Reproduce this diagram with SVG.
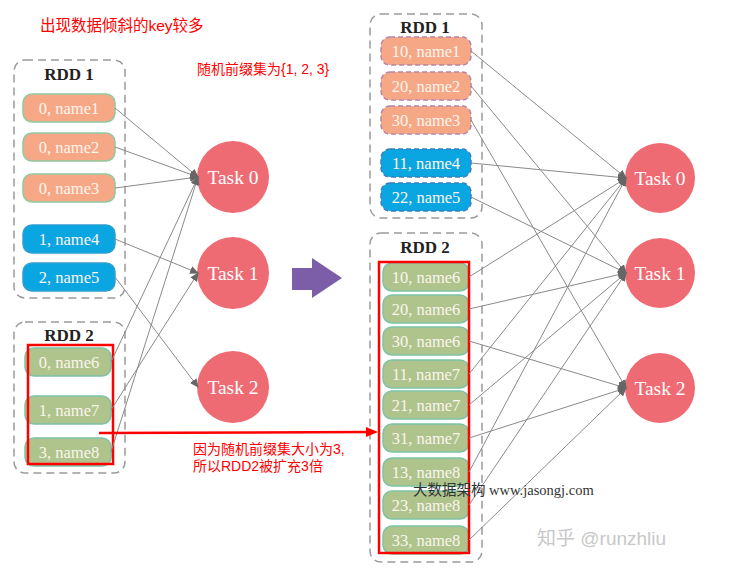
<svg xmlns="http://www.w3.org/2000/svg" width="742" height="575" viewBox="0 0 742 575">
<defs>
<marker id="ah" markerWidth="9" markerHeight="8" refX="8" refY="4" orient="auto" markerUnits="userSpaceOnUse">
<path d="M0,0 L9,4 L0,8 Z" fill="#666"/>
</marker>
<style>
.box{fill:none;stroke:#9a9a9a;stroke-width:1.5;stroke-dasharray:8 5}
.ttl{font-family:"Liberation Serif",serif;font-size:17px;font-weight:bold;fill:#222;text-anchor:middle}
.nl{font-family:"Liberation Serif",serif;font-size:16.5px;fill:#fbf5ee;text-anchor:middle}
.or{fill:#F6A886;stroke:#90c9a0;stroke-width:1.5}
.bl{fill:#0AA6E2;stroke:#2c9fd2;stroke-width:1.5}
.gr{fill:#AEC48C;stroke:#7cc4a6;stroke-width:1.5}
.ord{fill:#F6A886;stroke:#b485a6;stroke-width:1.5;stroke-dasharray:5 3}
.bld{fill:#0AA6E2;stroke:#3a7fc2;stroke-width:1.5;stroke-dasharray:5 3}
.task{fill:#EF6B73}
.tl{font-family:"Liberation Serif",serif;font-size:19.5px;fill:#fff;text-anchor:middle}
.red{font-family:"Liberation Sans","Noto Sans CJK SC",sans-serif;fill:#ff0000}
.rr{fill:none;stroke:#ff0000;stroke-width:2.5}
#connectors line{stroke:#8a8a8a;stroke-width:1;marker-end:url(#ah)}
</style>
</defs>
<rect width="742" height="575" fill="#fff"/>

<text class="red" x="40" y="31" font-size="15.5">出现数据倾斜的key较多</text>
<text class="red" x="197" y="74" font-size="14">随机前缀集为{1, 2, 3}</text>

<!-- left RDD1 -->
<g id="L-RDD1">
<rect class="box" x="14" y="60" width="111" height="238" rx="11"/>
<text class="ttl" x="69" y="80">RDD 1</text>
</g>
<g id="L-n1"><rect class="or" x="23" y="94" width="92" height="28" rx="9"/><text class="nl" x="69" y="114">0, name1</text></g>
<g id="L-n2"><rect class="or" x="23" y="133" width="92" height="28" rx="9"/><text class="nl" x="69" y="153">0, name2</text></g>
<g id="L-n3"><rect class="or" x="23" y="174" width="92" height="28" rx="9"/><text class="nl" x="69" y="194">0, name3</text></g>
<g id="L-n4"><rect class="bl" x="23" y="225" width="92" height="28" rx="9"/><text class="nl" x="69" y="245">1, name4</text></g>
<g id="L-n5"><rect class="bl" x="23" y="263" width="92" height="28" rx="9"/><text class="nl" x="69" y="283">2, name5</text></g>

<!-- left RDD2 -->
<g id="L-RDD2">
<rect class="box" x="14" y="322" width="111" height="151" rx="11"/>
<text class="ttl" x="69" y="341">RDD 2</text>
</g>
<g id="L-n6"><rect class="gr" x="25" y="348" width="86" height="28" rx="9"/><text class="nl" x="69" y="368">0, name6</text></g>
<g id="L-n7"><rect class="gr" x="25" y="396" width="86" height="28" rx="9"/><text class="nl" x="69" y="416">1, name7</text></g>
<g id="L-n8"><rect class="gr" x="25" y="438" width="86" height="28" rx="9"/><text class="nl" x="69" y="458">3, name8</text></g>
<rect class="rr" x="28" y="345" width="85" height="119"/>

<!-- left tasks -->
<g id="L-T0"><circle class="task" cx="233" cy="177" r="36"/><text class="tl" x="233" y="184">Task 0</text></g>
<g id="L-T1"><circle class="task" cx="233" cy="273" r="36"/><text class="tl" x="233" y="280">Task 1</text></g>
<g id="L-T2"><circle class="task" cx="233" cy="387" r="36"/><text class="tl" x="233" y="394">Task 2</text></g>

<!-- purple arrow -->
<g id="big-arrow"><path d="M292,268 L312,268 L312,258 L342,278 L312,298 L312,290 L292,290 Z" fill="#7B5EA7"/></g>

<!-- right RDD1 -->
<g id="R-RDD1">
<rect class="box" x="370" y="14" width="112" height="204" rx="11"/>
<text class="ttl" x="425" y="33">RDD 1</text>
</g>
<g id="R-n1"><rect class="ord" x="381" y="37" width="90" height="28" rx="9"/><text class="nl" x="426" y="57">10, name1</text></g>
<g id="R-n2"><rect class="ord" x="381" y="72" width="90" height="28" rx="9"/><text class="nl" x="426" y="92">20, name2</text></g>
<g id="R-n3"><rect class="ord" x="381" y="106" width="90" height="28" rx="9"/><text class="nl" x="426" y="126">30, name3</text></g>
<g id="R-n4"><rect class="bld" x="381" y="149" width="90" height="28" rx="9"/><text class="nl" x="426" y="169">11, name4</text></g>
<g id="R-n5"><rect class="bld" x="381" y="183" width="90" height="28" rx="9"/><text class="nl" x="426" y="203">22, name5</text></g>

<!-- right RDD2 -->
<g id="R-RDD2">
<rect class="box" x="370" y="233" width="112" height="329" rx="11"/>
<text class="ttl" x="425" y="253">RDD 2</text>
</g>
<g id="R-m1"><rect class="gr" x="383" y="263" width="86" height="28" rx="9"/><text class="nl" x="426" y="283">10, name6</text></g>
<g id="R-m2"><rect class="gr" x="383" y="295" width="86" height="28" rx="9"/><text class="nl" x="426" y="315">20, name6</text></g>
<g id="R-m3"><rect class="gr" x="383" y="327" width="86" height="28" rx="9"/><text class="nl" x="426" y="347">30, name6</text></g>
<g id="R-m4"><rect class="gr" x="383" y="360" width="86" height="28" rx="9"/><text class="nl" x="426" y="380">11, name7</text></g>
<g id="R-m5"><rect class="gr" x="383" y="391" width="86" height="28" rx="9"/><text class="nl" x="426" y="411">21, name7</text></g>
<g id="R-m6"><rect class="gr" x="383" y="424" width="86" height="28" rx="9"/><text class="nl" x="426" y="444">31, name7</text></g>
<g id="R-m7"><rect class="gr" x="383" y="458" width="86" height="28" rx="9"/><text class="nl" x="426" y="478">13, name8</text></g>
<g id="R-m8"><rect class="gr" x="383" y="491" width="86" height="28" rx="9"/><text class="nl" x="426" y="511">23, name8</text></g>
<g id="R-m9"><rect class="gr" x="383" y="526" width="86" height="28" rx="9"/><text class="nl" x="426" y="546">33, name8</text></g>
<rect class="rr" x="379" y="262" width="90" height="291"/>

<!-- right tasks -->
<g id="R-T0"><circle class="task" cx="660" cy="178" r="35"/><text class="tl" x="660" y="185">Task 0</text></g>
<g id="R-T1"><circle class="task" cx="660" cy="273" r="35"/><text class="tl" x="660" y="280">Task 1</text></g>
<g id="R-T2"><circle class="task" cx="660" cy="388" r="35"/><text class="tl" x="660" y="395">Task 2</text></g>

<!-- connectors -->
<g id="connectors">
<line x1="115" y1="108" x2="198" y2="177"/>
<line x1="115" y1="147" x2="198" y2="177"/>
<line x1="115" y1="188" x2="198" y2="177"/>
<line x1="115" y1="239" x2="198" y2="273"/>
<line x1="115" y1="277" x2="198" y2="387"/>
<line x1="111" y1="362" x2="198" y2="177"/>
<line x1="111" y1="410" x2="198" y2="273"/>
<line x1="111" y1="452" x2="198" y2="177"/>

<line x1="471" y1="51" x2="626" y2="178"/>
<line x1="471" y1="86" x2="626" y2="273"/>
<line x1="471" y1="120" x2="626" y2="388"/>
<line x1="471" y1="163" x2="626" y2="178"/>
<line x1="471" y1="197" x2="626" y2="273"/>
<line x1="469" y1="277" x2="626" y2="178"/>
<line x1="469" y1="309" x2="626" y2="273"/>
<line x1="469" y1="341" x2="626" y2="388"/>
<line x1="469" y1="374" x2="626" y2="178"/>
<line x1="469" y1="405" x2="626" y2="273"/>
<line x1="469" y1="438" x2="626" y2="388"/>
<line x1="469" y1="472" x2="626" y2="178"/>
<line x1="469" y1="505" x2="626" y2="273"/>
<line x1="469" y1="540" x2="626" y2="388"/>
</g>

<!-- red arrow -->
<g id="red-arrow">
<line x1="99" y1="433" x2="370" y2="432" stroke="#ff0000" stroke-width="2.5"/>
<path d="M378,432 L366,427 L366,437 Z" fill="#ff0000"/>
</g>
<text class="red" x="193" y="454" font-size="14">因为随机前缀集大小为3,</text>
<text class="red" x="193" y="471" font-size="14">所以RDD2被扩充3倍</text>

<text x="413" y="495" font-family="Liberation Serif,Noto Sans CJK SC,serif" font-size="14.5" fill="#333">大数据架构 www.jasongj.com</text>
<text x="537" y="545" font-family="Liberation Sans,Noto Sans CJK SC,sans-serif" font-size="19" fill="#c8c8c8">知乎 @runzhliu</text>
</svg>
